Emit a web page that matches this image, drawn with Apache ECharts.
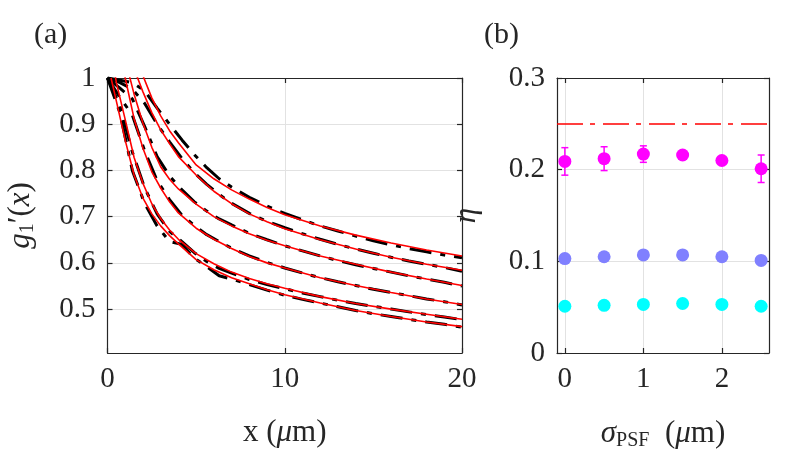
<!DOCTYPE html>
<html>
<head>
<meta charset="utf-8">
<script src="https://cdn.jsdelivr.net/npm/echarts@6/dist/echarts.min.js"></script>
<style>
  html, body { margin: 0; padding: 0; background: #fff; }
  #chart { width: 789px; height: 469px; }
</style>
</head>
<body>
<div id="chart"></div>
<script>
// (a) fitted curves, red
var fitX = [0.2, 0.5, 1, 1.5, 2, 2.5, 3, 3.5, 4, 5, 6, 7, 8, 9, 10, 12, 14, 16, 18, 20];
var fit1 = [1.6, 1.30, 1.16, 1.06, 1.005, 0.957, 0.918, 0.886, 0.86, 0.812, 0.782, 0.758, 0.738, 0.72, 0.704, 0.68, 0.66, 0.643, 0.628, 0.615];
var fit2 = [1.45, 1.25, 1.10, 1.02, 0.97, 0.925, 0.888, 0.858, 0.83, 0.79, 0.755, 0.728, 0.706, 0.689, 0.674, 0.65, 0.63, 0.612, 0.597, 0.584];
var fit3 = [1.3, 1.16, 1.04, 0.965, 0.902, 0.85, 0.808, 0.781, 0.76, 0.727, 0.70, 0.68, 0.663, 0.649, 0.637, 0.615, 0.597, 0.58, 0.565, 0.551];
var fit4 = [1.25, 1.12, 1.0, 0.912, 0.848, 0.797, 0.762, 0.732, 0.708, 0.675, 0.651, 0.631, 0.614, 0.6, 0.589, 0.568, 0.551, 0.536, 0.522, 0.51];
var fit5 = [1.06, 0.99, 0.91, 0.828, 0.772, 0.728, 0.696, 0.671, 0.651, 0.62, 0.598, 0.58, 0.566, 0.555, 0.545, 0.527, 0.512, 0.5, 0.489, 0.478];
var fit6 = [1.0, 0.95, 0.865, 0.79, 0.74, 0.706, 0.68, 0.659, 0.641, 0.607, 0.585, 0.568, 0.555, 0.542, 0.531, 0.513, 0.497, 0.484, 0.472, 0.462];

// (a) measured g1'(x), black dash-dot
var dataX = [0, 0.7, 1.4, 2.1, 2.8, 3.5, 4.2, 4.9, 5.6, 6.3, 7, 8, 9, 10, 11, 12, 13, 14, 15, 16, 17, 18, 19, 20];
var meas1 = [1, 0.995, 0.99, 0.972, 0.935, 0.9, 0.866, 0.834, 0.806, 0.782, 0.764, 0.742, 0.723, 0.707, 0.693, 0.68, 0.669, 0.658, 0.648, 0.639, 0.631, 0.624, 0.617, 0.611];
var meas2 = [1, 0.99, 0.976, 0.945, 0.9, 0.862, 0.826, 0.795, 0.77, 0.748, 0.729, 0.707, 0.69, 0.676, 0.663, 0.651, 0.64, 0.63, 0.621, 0.612, 0.604, 0.597, 0.59, 0.582];
var meas3 = [1, 0.978, 0.955, 0.895, 0.83, 0.788, 0.758, 0.732, 0.712, 0.695, 0.682, 0.664, 0.65, 0.637, 0.626, 0.615, 0.605, 0.596, 0.588, 0.58, 0.572, 0.565, 0.558, 0.55];
var meas4 = [1, 0.958, 0.92, 0.842, 0.778, 0.737, 0.703, 0.681, 0.661, 0.646, 0.632, 0.615, 0.601, 0.589, 0.578, 0.568, 0.559, 0.551, 0.543, 0.536, 0.529, 0.522, 0.516, 0.509];
var meas5 = [1, 0.94, 0.84, 0.762, 0.706, 0.668, 0.646, 0.622, 0.603, 0.588, 0.578, 0.564, 0.553, 0.544, 0.535, 0.527, 0.519, 0.512, 0.506, 0.5, 0.494, 0.488, 0.483, 0.477];
var meas6 = [1, 0.925, 0.8, 0.728, 0.68, 0.646, 0.64, 0.61, 0.592, 0.572, 0.565, 0.553, 0.541, 0.53, 0.521, 0.513, 0.505, 0.497, 0.49, 0.484, 0.478, 0.472, 0.467, 0.461];

// (b) eta vs sigma_PSF
var sigmaPsf = [0, 0.5, 1, 1.5, 2, 2.5];
var etaHigh = [0.209, 0.212, 0.217, 0.216, 0.210, 0.201];
var etaHighErr = [0.015, 0.013, 0.009, 0.004, 0.004, 0.015];
var etaMid = [0.103, 0.105, 0.107, 0.107, 0.105, 0.101];
var etaLow = [0.051, 0.052, 0.053, 0.054, 0.053, 0.051];
var etaRef = 0.25;

// tick labels
var ticksAx = [0, 10, 20];
var ticksAy = [0.5, 0.6, 0.7, 0.8, 0.9, 1];
var ticksBx = [0, 1, 2];
var ticksBy = [0, 0.1, 0.2, 0.3];

var font = 'Liberation Serif';
var axisColor = '#262626';
var gridColor = '#e2e2e2';

function zip(xs, ys) {
  return xs.map(function (x, i) { return [x, ys[i]]; });
}

function valueAxis(gridIndex, position, min, max, ticks, main) {
  return {
    type: 'value',
    gridIndex: gridIndex,
    position: position,
    min: min,
    max: max,
    axisLine: { show: true, onZero: false, lineStyle: { color: axisColor, width: 1.2 } },
    axisTick: { show: true, inside: true, length: 5, customValues: ticks, lineStyle: { color: axisColor, width: 1.2 } },
    axisLabel: { show: main, customValues: ticks, color: axisColor, fontFamily: font, fontSize: 29, margin: 12 },
    splitLine: { show: main, lineStyle: { color: gridColor, width: 1 } }
  };
}

var nameRich = {
  n: { fontFamily: font, fontSize: 31, color: axisColor },
  i: { fontFamily: font, fontSize: 31, fontStyle: 'italic', color: axisColor },
  s: { fontFamily: font, fontSize: 20, color: axisColor, padding: [14, 0, 0, 0] }
};

var xA = valueAxis(0, 'bottom', 0, 20, ticksAx, true);
xA.name = '{n|x (}{i|μ}{n|m)}';
xA.nameLocation = 'middle';
xA.nameGap = 64;
xA.nameTextStyle = { rich: nameRich };

var yA = valueAxis(0, 'left', 0.405, 1, ticksAy, true);
yA.name = '{i|g}{s|1}{n|′(}{i|x}{n|)}';
yA.nameLocation = 'middle';
yA.nameGap = 70;
yA.nameTextStyle = { rich: nameRich };

var xB = valueAxis(1, 'bottom', -0.1, 2.6, ticksBx, true);
xB.name = '{i|σ}{s|PSF}{n|  (}{i|μ}{n|m)}';
xB.nameLocation = 'middle';
xB.nameGap = 64;
xB.nameTextStyle = { rich: nameRich };

var yB = valueAxis(1, 'left', 0, 0.3, ticksBy, true);
yB.name = '{i|η}';
yB.nameLocation = 'middle';
yB.nameGap = 75;
yB.nameTextStyle = { rich: nameRich };

function measLine(vals) {
  return {
    type: 'line', xAxisIndex: 0, yAxisIndex: 0,
    data: zip(dataX, vals),
    showSymbol: false, silent: true, clip: true,
    lineStyle: { color: '#000', width: 3, type: [22, 9, 5, 9] }
  };
}

function fitLine(vals) {
  return {
    type: 'line', xAxisIndex: 0, yAxisIndex: 0,
    data: zip(fitX, vals),
    showSymbol: false, silent: true, clip: true,
    lineStyle: { color: '#ff0000', width: 1.6 }
  };
}

function dots(vals, color) {
  return {
    type: 'scatter', xAxisIndex: 2, yAxisIndex: 2,
    data: zip(sigmaPsf, vals),
    symbol: 'circle', symbolSize: 13, silent: true,
    itemStyle: { color: color, opacity: 1 }
  };
}

var myChart = echarts.init(document.getElementById('chart'));

myChart.setOption({
  animation: false,
  backgroundColor: '#fff',
  grid: [
    { left: 107.5, top: 78, right: 327, bottom: 116 },
    { left: 557, top: 78, right: 20, bottom: 116 }
  ],
  xAxis: [
    xA,
    valueAxis(0, 'top', 0, 20, ticksAx, false),
    xB,
    valueAxis(1, 'top', -0.1, 2.6, ticksBx, false)
  ],
  yAxis: [
    yA,
    valueAxis(0, 'right', 0.405, 1, ticksAy, false),
    yB,
    valueAxis(1, 'right', 0, 0.3, ticksBy, false)
  ],
  graphic: [
    { type: 'text', left: 34, top: 20, style: { text: '(a)', font: '30px "Liberation Serif"', fill: axisColor } },
    { type: 'text', left: 484, top: 20, style: { text: '(b)', font: '30px "Liberation Serif"', fill: axisColor } }
  ],
  series: [
    measLine(meas1), measLine(meas2), measLine(meas3),
    measLine(meas4), measLine(meas5), measLine(meas6),
    fitLine(fit1), fitLine(fit2), fitLine(fit3),
    fitLine(fit4), fitLine(fit5), fitLine(fit6),
    {
      type: 'line', xAxisIndex: 2, yAxisIndex: 2, data: [],
      markLine: {
        silent: true, symbol: 'none', label: { show: false },
        lineStyle: { color: '#ff0000', width: 1.5, type: [26, 7, 5, 8] },
        data: [{ yAxis: etaRef }]
      }
    },
    {
      type: 'custom', xAxisIndex: 2, yAxisIndex: 2, silent: true,
      data: sigmaPsf.map(function (s, i) { return [s, etaHigh[i], etaHighErr[i]]; }),
      renderItem: function (params, api) {
        var x = api.value(0), y = api.value(1), e = api.value(2);
        var top = api.coord([x, y + e]);
        var bot = api.coord([x, y - e]);
        var w = 3.5;
        var st = { stroke: '#ff00ff', lineWidth: 1.5 };
        return {
          type: 'group',
          children: [
            { type: 'line', shape: { x1: top[0], y1: top[1], x2: bot[0], y2: bot[1] }, style: st },
            { type: 'line', shape: { x1: top[0] - w, y1: top[1], x2: top[0] + w, y2: top[1] }, style: st },
            { type: 'line', shape: { x1: bot[0] - w, y1: bot[1], x2: bot[0] + w, y2: bot[1] }, style: st }
          ]
        };
      }
    },
    dots(etaHigh, '#ff00ff'),
    dots(etaMid, '#8080ff'),
    dots(etaLow, '#00ffff')
  ]
});
</script>
</body>
</html>
